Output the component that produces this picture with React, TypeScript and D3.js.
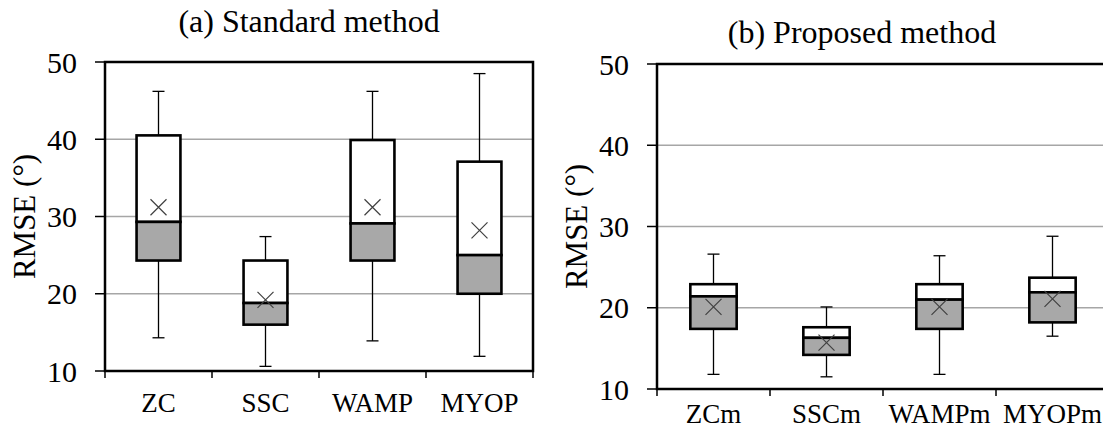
import React from 'react';
import * as d3 from 'd3';

// (a) Standard method
const catsA = ['ZC', 'SSC', 'WAMP', 'MYOP'];
const minA = [14.3, 10.6, 13.9, 11.9];
const q1A = [24.3, 16.0, 24.3, 20.0];
const medA = [29.3, 18.8, 29.1, 25.0];
const q3A = [40.5, 24.3, 39.9, 37.1];
const maxA = [46.2, 27.4, 46.2, 48.5];
const meanA = [31.2, 19.2, 31.2, 28.2];

// (b) Proposed method
const catsB = ['ZCm', 'SSCm', 'WAMPm', 'MYOPm'];
const minB = [11.8, 11.5, 11.8, 16.5];
const q1B = [17.4, 14.2, 17.4, 18.2];
const medB = [21.4, 16.3, 21.0, 21.9];
const q3B = [22.9, 17.6, 22.9, 23.7];
const maxB = [26.6, 20.1, 26.4, 28.8];
const meanB = [20.1, 15.7, 20.1, 21.1];

const yTicks = [10, 20, 30, 40, 50];
const FONT = 'Liberation Serif, Times New Roman, serif';

type PanelProps = {
  title: string;
  titleX: number;
  titleY: number;
  cats: string[];
  mins: number[];
  q1s: number[];
  meds: number[];
  q3s: number[];
  maxs: number[];
  means: number[];
  x0: number;
  x1: number;
  yTop: number;
  yBottom: number;
  labelOffset: number;
};

const Panel = (p: PanelProps) => {
  const x = d3.scaleBand<string>().domain(p.cats).range([p.x0, p.x1]).padding(0);
  const y = d3.scaleLinear().domain([10, 50]).range([p.yBottom, p.yTop]);
  const bw = x.bandwidth();
  const boxW = bw * 0.41;
  const capW = 12;
  const xs = 8;
  const bounds = p.cats.map((c) => x(c) as number).concat([p.x1]);

  return (
    <g>
      <text x={p.titleX} y={p.titleY} textAnchor="middle" style={{ fontSize: 32, fontFamily: FONT }} fill="#000">
        {p.title}
      </text>
      {/* gridlines */}
      {yTicks.slice(1, -1).map((t) => (
        <line key={t} x1={p.x0} x2={p.x1} y1={y(t)} y2={y(t)} stroke="#a6a6a6" strokeWidth={1.5} />
      ))}
      {/* y ticks + labels */}
      {yTicks.map((t) => (
        <g key={t}>
          <line x1={p.x0 - 10} x2={p.x0} y1={y(t)} y2={y(t)} stroke="#000" strokeWidth={1.5} />
          <text x={p.x0 - 28} y={y(t)} dy="0.35em" textAnchor="end" style={{ fontSize: 30, fontFamily: FONT }} fill="#000">
            {t}
          </text>
        </g>
      ))}
      <text
        transform={`translate(${p.x0 - 70},${(p.yTop + p.yBottom) / 2}) rotate(-90)`}
        textAnchor="middle"
        style={{ fontSize: 31, fontFamily: FONT }}
        fill="#000"
      >
        RMSE (°)
      </text>
      {/* x ticks + labels */}
      {bounds.map((b, i) => (
        <line key={i} x1={b} x2={b} y1={p.yBottom} y2={p.yBottom + 7} stroke="#000" strokeWidth={1.5} />
      ))}
      {p.cats.map((c) => (
        <text
          key={c}
          x={(x(c) as number) + bw / 2}
          y={p.yBottom + p.labelOffset}
          textAnchor="middle"
          style={{ fontSize: 27, fontFamily: FONT }}
          fill="#000"
        >
          {c}
        </text>
      ))}
      {/* boxes */}
      {p.cats.map((c, i) => {
        const cx = (x(c) as number) + bw / 2;
        const my = y(p.means[i]);
        return (
          <g key={c}>
            <line x1={cx} x2={cx} y1={y(p.maxs[i])} y2={y(p.q3s[i])} stroke="#000" strokeWidth={1.3} />
            <line x1={cx} x2={cx} y1={y(p.q1s[i])} y2={y(p.mins[i])} stroke="#000" strokeWidth={1.3} />
            <line x1={cx - capW / 2} x2={cx + capW / 2} y1={y(p.maxs[i])} y2={y(p.maxs[i])} stroke="#000" strokeWidth={1.3} />
            <line x1={cx - capW / 2} x2={cx + capW / 2} y1={y(p.mins[i])} y2={y(p.mins[i])} stroke="#000" strokeWidth={1.3} />
            <rect x={cx - boxW / 2} y={y(p.q3s[i])} width={boxW} height={y(p.meds[i]) - y(p.q3s[i])} fill="#fff" stroke="#000" strokeWidth={2.6} />
            <rect x={cx - boxW / 2} y={y(p.meds[i])} width={boxW} height={y(p.q1s[i]) - y(p.meds[i])} fill="#a8a8a8" stroke="#000" strokeWidth={2.6} />
            <path
              d={`M${cx - xs},${my - xs}L${cx + xs},${my + xs}M${cx - xs},${my + xs}L${cx + xs},${my - xs}`}
              stroke="#404040"
              strokeWidth={1.2}
              fill="none"
            />
          </g>
        );
      })}
      {/* frame */}
      <rect x={p.x0} y={p.yTop} width={p.x1 - p.x0} height={p.yBottom - p.yTop} fill="none" stroke="#000" strokeWidth={2.5} />
    </g>
  );
};

export default function App() {
  return (
    <svg
      width={1103}
      height={434}
      style={{ position: 'absolute', left: 0, top: 0, background: '#fff' }}
    >
      <rect width={1103} height={434} fill="#fff" />
      <Panel
        title="(a) Standard method"
        titleX={309}
        titleY={32}
        cats={catsA}
        mins={minA}
        q1s={q1A}
        meds={medA}
        q3s={q3A}
        maxs={maxA}
        means={meanA}
        x0={105}
        x1={533}
        yTop={62}
        yBottom={371}
        labelOffset={41}
      />
      <Panel
        title="(b) Proposed method"
        titleX={862}
        titleY={43}
        cats={catsB}
        mins={minB}
        q1s={q1B}
        meds={medB}
        q3s={q3B}
        maxs={maxB}
        means={meanB}
        x0={657}
        x1={1109}
        yTop={64}
        yBottom={389}
        labelOffset={34}
      />
    </svg>
  );
}
